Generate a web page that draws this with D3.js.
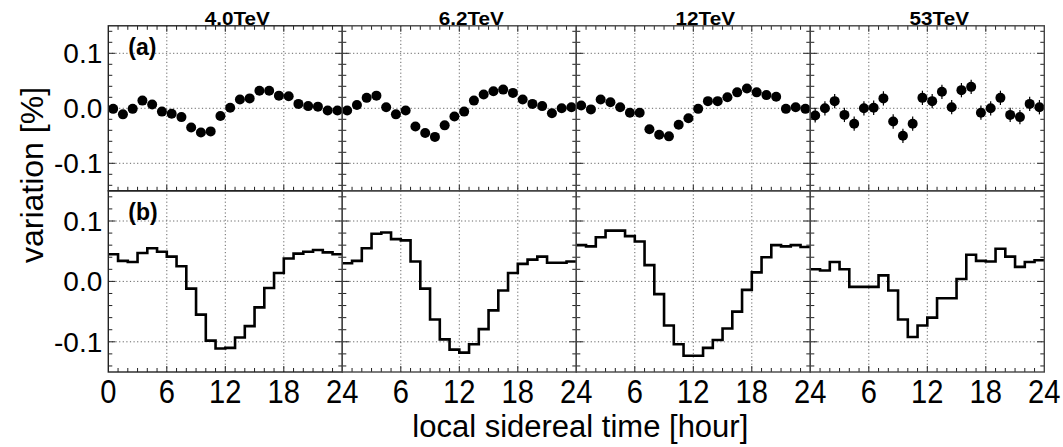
<!DOCTYPE html>
<html>
<head>
<meta charset="utf-8">
<script src="https://cdn.jsdelivr.net/npm/d3@7"></script>
<style>
  body { margin: 0; background: #fff; }
  svg { font-family: "Liberation Sans", Arial, sans-serif; display: block; }
</style>
</head>
<body>
<svg id="chart"></svg>
<script>
// panel titles
const energies = ["4.0TeV", "6.2TeV", "12TeV", "53TeV"];

// (a) observed variation, one point per sidereal hour bin (centre at h+0.5)
const obs40 = [-0.001, -0.011, -0.001, 0.014, 0.007, -0.006, -0.010, -0.016, -0.035, -0.044, -0.042, -0.014,
               0.001, 0.016, 0.018, 0.032, 0.032, 0.023, 0.022, 0.008, 0.004, 0.003, -0.004, -0.004];
const obs62 = [-0.004, 0.006, 0.019, 0.023, 0.002, -0.011, -0.004, -0.033, -0.045, -0.052, -0.031, -0.015,
               -0.006, 0.014, 0.025, 0.031, 0.034, 0.028, 0.016, 0.008, 0.004, -0.009, 0.000, 0.002];
const obs12 = [0.005, -0.002, 0.016, 0.011, 0.002, -0.008, -0.008, -0.038, -0.048, -0.051, -0.030, -0.018,
               -0.001, 0.013, 0.013, 0.020, 0.029, 0.036, 0.029, 0.024, 0.021, -0.001, 0.002, -0.001];
const obs53 = [-0.013, 0.000, 0.013, -0.012, -0.028, 0.000, 0.001, 0.018, -0.024, -0.050, -0.028, 0.019,
               0.013, 0.030, 0.002, 0.033, 0.039, -0.008, 0.000, 0.019, -0.012, -0.016, 0.008, 0.002];

// (a) statistical errors
const err40 = [0.003, 0.003, 0.003, 0.003, 0.003, 0.003, 0.003, 0.003, 0.003, 0.003, 0.003, 0.003,
               0.003, 0.003, 0.003, 0.003, 0.003, 0.003, 0.003, 0.003, 0.003, 0.003, 0.003, 0.003];
const err62 = [0.004, 0.004, 0.004, 0.004, 0.004, 0.004, 0.004, 0.004, 0.004, 0.004, 0.004, 0.004,
               0.004, 0.004, 0.004, 0.004, 0.004, 0.004, 0.004, 0.004, 0.004, 0.004, 0.004, 0.004];
const err12 = [0.005, 0.005, 0.005, 0.005, 0.005, 0.005, 0.005, 0.005, 0.005, 0.005, 0.005, 0.005,
               0.005, 0.005, 0.005, 0.005, 0.005, 0.005, 0.005, 0.005, 0.005, 0.005, 0.005, 0.005];
const err53 = [0.013, 0.013, 0.013, 0.013, 0.013, 0.013, 0.013, 0.013, 0.013, 0.013, 0.013, 0.013,
               0.013, 0.013, 0.013, 0.013, 0.013, 0.013, 0.013, 0.013, 0.013, 0.013, 0.013, 0.013];

// (b) histogram, one value per hour bin
const hist40 = [0.045, 0.034, 0.032, 0.047, 0.055, 0.049, 0.041, 0.025, -0.012, -0.055, -0.098, -0.111,
                -0.110, -0.093, -0.074, -0.043, -0.011, 0.014, 0.038, 0.046, 0.049, 0.052, 0.048, 0.045];
const hist62 = [0.030, 0.034, 0.055, 0.079, 0.081, 0.070, 0.068, 0.033, -0.012, -0.063, -0.096, -0.113,
                -0.118, -0.104, -0.079, -0.048, -0.015, 0.014, 0.029, 0.036, 0.041, 0.031, 0.031, 0.033];
const hist12 = [0.060, 0.058, 0.073, 0.084, 0.084, 0.075, 0.066, 0.027, -0.021, -0.073, -0.104, -0.123,
                -0.123, -0.110, -0.097, -0.078, -0.050, -0.014, 0.015, 0.040, 0.060, 0.058, 0.060, 0.057];
const hist53 = [0.020, 0.018, 0.032, 0.020, -0.009, -0.009, -0.009, 0.010, -0.015, -0.063, -0.092, -0.073,
                -0.060, -0.028, -0.028, 0.004, 0.044, 0.034, 0.033, 0.054, 0.041, 0.024, 0.032, 0.035];

const obsSeries = [obs40, obs62, obs12, obs53];
const errSeries = [err40, err62, err12, err53];
const histSeries = [hist40, hist62, hist12, hist53];

const xTicks = [0, 6, 12, 18, 24];
const yTicks = [-0.1, 0.0, 0.1];
const yTickLabels = ["-0.1", "0.0", "0.1"];

const W = 1063, H = 447;
const plotLeft = 108.3, plotRight = 1044.3;
const topA = 25.8, mid = 190.8, botB = 372;
const panelW = (plotRight - plotLeft) / 4;

const svg = d3.select("#chart").attr("width", W).attr("height", H);

const yA = d3.scaleLinear().domain([-0.15, 0.15]).range([mid, topA]);
const yB = d3.scaleLinear().domain([-0.15, 0.15]).range([botB, mid]);
const minorY = d3.range(-14, 15, 2).map(d => d / 100);

const rows = [
  { y: yA, top: topA, bottom: mid, label: "(a)" },
  { y: yB, top: mid, bottom: botB, label: "(b)" }
];

energies.forEach((name, p) => {
  const x0 = plotLeft + p * panelW;
  const x = d3.scaleLinear().domain([0, 24]).range([x0, x0 + panelW]);

  rows.forEach((row, r) => {
    const g = svg.append("g");
    const y = row.y;

    // dotted grid
    g.selectAll(".gx").data([6, 12, 18]).join("line")
      .attr("x1", d => x(d)).attr("x2", d => x(d))
      .attr("y1", row.top).attr("y2", row.bottom)
      .attr("stroke", "#666").attr("stroke-width", 1).attr("stroke-dasharray", "1.2,2.4");
    g.selectAll(".gy").data(yTicks).join("line")
      .attr("x1", x(0)).attr("x2", x(24))
      .attr("y1", d => y(d)).attr("y2", d => y(d))
      .attr("stroke", "#666").attr("stroke-width", 1).attr("stroke-dasharray", "1.2,2.4");

    // hour ticks (inside, top and bottom)
    const hrs = d3.range(1, 24);
    if (r === 0) {
      g.selectAll(".tt").data(hrs).join("line")
        .attr("x1", d => x(d)).attr("x2", d => x(d))
        .attr("y1", row.top).attr("y2", d => row.top + (d % 6 === 0 ? 6 : 4))
        .attr("stroke", "#222");
    }
    g.selectAll(".tb").data(hrs).join("line")
      .attr("x1", d => x(d)).attr("x2", d => x(d))
      .attr("y1", row.bottom).attr("y2", d => row.bottom - (d % 6 === 0 ? 6 : 4))
      .attr("stroke", "#222");

    // value ticks (inside, left and right)
    [[x(0), 1], [x(24), -1]].forEach(([xe, dir]) => {
      g.selectAll(null).data(minorY).join("line")
        .attr("x1", xe).attr("x2", d => xe + dir * (Math.abs(Math.round(d * 100)) % 10 === 0 ? 7 : 4))
        .attr("y1", d => y(d)).attr("y2", d => y(d))
        .attr("stroke", "#222");
    });

    // data
    if (r === 0) {
      const pts = obsSeries[p].map((v, i) => ({ h: i + 0.5, v: v, e: errSeries[p][i] }));
      g.selectAll(".eb").data(pts).join("line")
        .attr("x1", d => x(d.h)).attr("x2", d => x(d.h))
        .attr("y1", d => y(d.v - d.e)).attr("y2", d => y(d.v + d.e))
        .attr("stroke", "#000").attr("stroke-width", 1.2);
      g.selectAll(".pt").data(pts).join("circle")
        .attr("cx", d => x(d.h)).attr("cy", d => y(d.v))
        .attr("r", 5).attr("fill", "#000");
    } else {
      const vals = histSeries[p];
      const steps = vals.map((v, i) => [i, v]).concat([[24, vals[vals.length - 1]]]);
      g.append("path")
        .datum(steps)
        .attr("fill", "none").attr("stroke", "#000").attr("stroke-width", 2.6)
        .attr("d", d3.line().x(d => x(d[0])).y(d => y(d[1])).curve(d3.curveStepAfter));
    }

    // frame
    g.append("rect")
      .attr("x", x(0)).attr("y", row.top)
      .attr("width", panelW).attr("height", row.bottom - row.top)
      .attr("fill", "none").attr("stroke", p > 0 ? "#444" : "#222").attr("stroke-width", 1.4);
  });

  // panel title
  svg.append("text")
    .attr("transform", `translate(${x(12) + 12},${24.5}) scale(1.15,1)`)
    .attr("text-anchor", "middle")
    .attr("font-size", 18).attr("font-weight", "bold")
    .text(name);

  // x tick labels
  const labels = p === 0 ? xTicks : xTicks.slice(1);
  svg.selectAll(null).data(labels).join("text")
    .attr("transform", d => `translate(${x(d)},403) scale(0.94,1.06)`)
    .attr("text-anchor", "middle")
    .attr("font-size", 31)
    .text(d => d);
});

// y tick labels and panel letters
rows.forEach(row => {
  svg.selectAll(null).data(yTicks).join("text")
    .attr("x", plotLeft - 6).attr("y", d => row.y(d) + 10)
    .attr("text-anchor", "end")
    .attr("font-size", 28)
    .text((d, i) => yTickLabels[i]);
  svg.append("text")
    .attr("x", plotLeft + 20).attr("y", row.top + 29)
    .attr("font-size", 23).attr("font-weight", "bold")
    .text(row.label);
});

// axis titles
svg.append("text")
  .attr("x", (plotLeft + plotRight) / 2 + 4).attr("y", 437)
  .attr("text-anchor", "middle")
  .attr("font-size", 31)
  .text("local sidereal time [hour]");

svg.append("text")
  .attr("transform", "translate(43,175) rotate(-90)")
  .attr("text-anchor", "middle")
  .attr("font-size", 32)
  .text("variation [%]");
</script>
</body>
</html>
